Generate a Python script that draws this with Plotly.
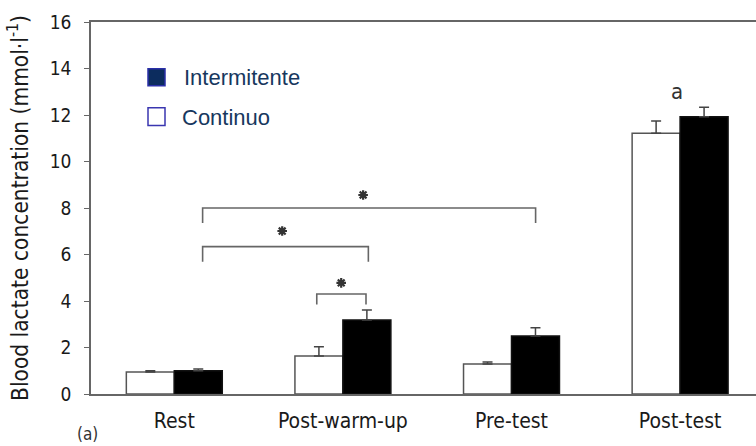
import plotly.graph_objects as go

# ---------------- data ----------------
categories = ["Rest", "Post-warm-up", "Pre-test", "Post-test"]
continuo = [0.95, 1.63, 1.29, 11.21]
continuo_err = [0.05, 0.40, 0.09, 0.53]
intermitente = [1.00, 3.18, 2.49, 11.93]
intermitente_err = [0.07, 0.43, 0.36, 0.40]
y_ticks = [0, 2, 4, 6, 8, 10, 12, 14, 16]
legend_labels = ["Intermitente", "Continuo"]
y_title = "Blood lactate concentration (mmol·l<sup>-1</sup>)"

# significance brackets: (x_start, x_end, bar height, drop)
brackets = [(0.168, 2.143, 8.00, 0.65), (0.168, 1.151, 6.34, 0.65), (0.845, 1.137, 4.30, 0.45)]
stars = [(1.12, 8.56), (0.64, 7.01), (0.99, 4.78)]

# ---------------- layout geometry ----------------
W, H = 756, 446
L, R, T, B = 91, 756, 22.3, 394.3


def px(x):
    return (x - L) / (R - L)


def py(y):
    return (B - y) / (B - T)


COND = "DejaVu Sans Condensed, Liberation Sans Narrow, Arial, sans-serif"
TXT = "#1a1a1a"
x_idx = list(range(len(categories)))

fig = go.Figure()
fig.add_trace(go.Bar(
    x=x_idx, y=continuo, name="Continuo",
    marker=dict(color="white", line=dict(color="#555555", width=1.5)),
    error_y=dict(type="data", symmetric=False, array=continuo_err,
                 arrayminus=[0] * 4, color="#444444", thickness=1.5, width=5),
    showlegend=False,
))
fig.add_trace(go.Bar(
    x=x_idx, y=intermitente, name="Intermitente",
    marker=dict(color="black", line=dict(color="#111111", width=1.5)),
    error_y=dict(type="data", symmetric=False, array=intermitente_err,
                 arrayminus=[0] * 4, color="#444444", thickness=1.5, width=5),
    showlegend=False,
))

# brackets
for x0, x1, yb, d in brackets:
    fig.add_trace(go.Scatter(
        x=[x0, x0, x1, x1], y=[yb - d, yb, yb, yb - d], mode="lines",
        line=dict(color="#666666", width=1.6), showlegend=False, hoverinfo="skip",
    ))
fig.add_trace(go.Scatter(
    x=[s[0] for s in stars], y=[s[1] for s in stars], mode="markers",
    marker=dict(symbol="asterisk-open", size=8, color="#333333",
                line=dict(color="#333333", width=2.2)),
    showlegend=False, hoverinfo="skip",
))

# 'a' above post-test
fig.add_annotation(x=2.98, y=13.0, text="a", showarrow=False,
                   font=dict(family=COND, size=22, color="#333333"),
                   xanchor="center", yanchor="middle")
# (a) panel label
fig.add_annotation(x=px(87), y=py(434), xref="paper", yref="paper", text="(a)",
                   showarrow=False, font=dict(family=COND, size=17, color="#333333"),
                   xanchor="center", yanchor="middle")

# manual legend
legend_rows = [(69, 86, "#0C2C5E", "#2A2FA8"), (108, 125.7, "white", "#3A36B0")]
for (y0, y1, fill, border), label in zip(legend_rows, legend_labels):
    fig.add_shape(type="rect", xref="paper", yref="paper",
                  x0=px(148), x1=px(165), y0=py(y1), y1=py(y0),
                  fillcolor=fill, line=dict(color=border, width=1.5))
    fig.add_annotation(x=px(180 if label == "Continuo" else 182), y=py((y0 + y1) / 2 + 0.5),
                       xref="paper", yref="paper", text=label, showarrow=False,
                       font=dict(family="Liberation Sans, Arial, sans-serif", size=22, color="#17375E"),
                       xanchor="left", yanchor="middle")

fig.update_layout(
    width=W, height=H,
    margin=dict(l=L, r=W - R, t=T, b=H - B),
    plot_bgcolor="white", paper_bgcolor="white",
    barmode="group", bargap=0.431, bargroupgap=0,
    xaxis=dict(
        range=[(L - 174.3) / 168.6, (R - 174.3) / 168.6],
        tickmode="array", tickvals=x_idx, ticktext=categories,
        showline=True, linecolor="#666666", linewidth=1.6, mirror=True,
        ticks="", showgrid=False, zeroline=False,
        tickfont=dict(family=COND, size=21, color=TXT),
        ticklabelstandoff=7,
    ),
    yaxis=dict(
        range=[0, 16], tickmode="array", tickvals=y_ticks,
        showline=True, linecolor="#666666", linewidth=1.6,
        ticks="outside", ticklen=5, tickcolor="#666666", tickwidth=1.2,
        showgrid=False, zeroline=False,
        tickfont=dict(family=COND, size=19, color=TXT),
        ticklabelstandoff=9,
        title=dict(text=y_title, font=dict(family=COND, size=22.5, color=TXT), standoff=15),
    ),
)

fig.write_html("out.html")
